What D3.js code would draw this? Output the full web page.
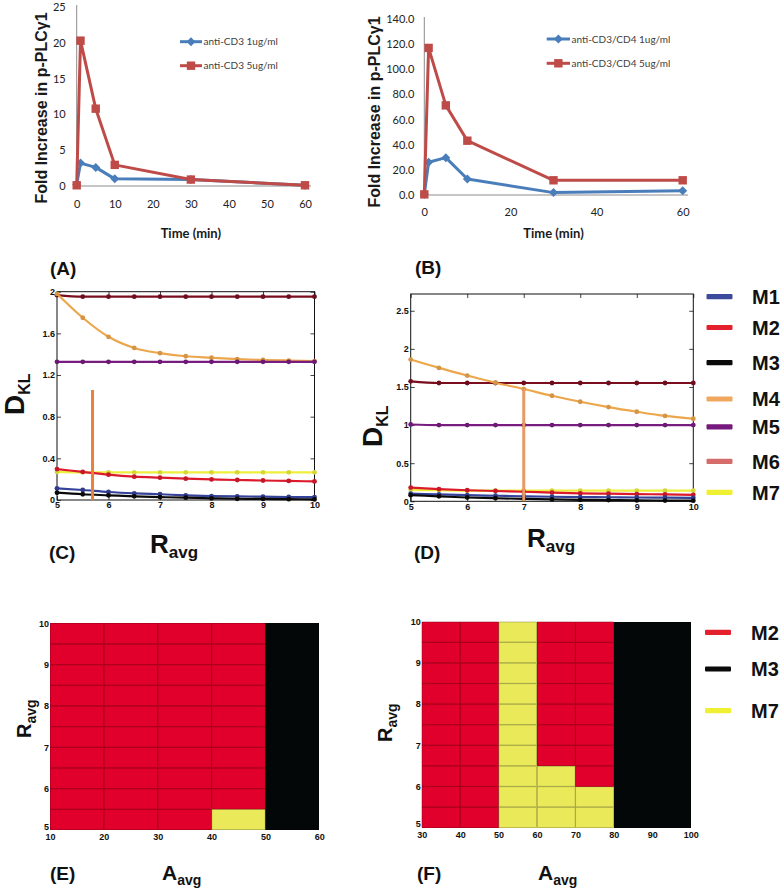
<!DOCTYPE html>
<html><head><meta charset="utf-8">
<script src="https://cdnjs.cloudflare.com/ajax/libs/d3/7.8.5/d3.min.js"></script>
<style>body{margin:0;background:#fff}svg{display:block}</style>
</head><body><svg id="fig" width="782" height="890"></svg>
<script>
// ---------------- DATA ----------------
// Panel A
const timeA = [0, 1, 5, 10, 30, 60];
const cd3_1ug = [0.2, 3.2, 2.6, 1.0, 0.9, 0.1];
const cd3_5ug = [0.1, 20.3, 10.8, 2.95, 0.9, 0.1];
const yTicksA = [0, 5, 10, 15, 20, 25];
const xTicksA = [0, 10, 20, 30, 40, 50, 60];
// Panel B
const timeB = [0, 1, 5, 10, 30, 60];
const cd34_1ug = [0.5, 26.0, 29.7, 12.7, 1.9, 3.4];
const cd34_5ug = [0.5, 117.0, 71.3, 43.2, 11.7, 11.7];
const yTicksB = [0, 20, 40, 60, 80, 100, 120, 140];
const xTicksB = [0, 20, 40, 60];
// Panels C and D (D_KL vs R_avg)
const rAvg = [5, 5.5, 6, 6.5, 7, 7.5, 8, 8.5, 9, 9.5, 10];
const modelNames = ["M1", "M2", "M3", "M4", "M5", "M6", "M7"];
const dklC_M1 = [0.112, 0.096, 0.077, 0.064, 0.055, 0.045, 0.038, 0.035, 0.032, 0.029, 0.028];
const dklC_M2 = [0.297, 0.27, 0.243, 0.224, 0.214, 0.205, 0.198, 0.192, 0.187, 0.183, 0.178];
const dklC_M3 = [0.07, 0.055, 0.045, 0.035, 0.028, 0.022, 0.016, 0.012, 0.01, 0.008, 0.006];
const dklC_M4 = [1.98, 1.75, 1.567, 1.46, 1.41, 1.38, 1.366, 1.353, 1.344, 1.339, 1.334];
const dklC_M5 = [1.327, 1.327, 1.327, 1.327, 1.327, 1.327, 1.327, 1.327, 1.327, 1.327, 1.327];
const dklC_M6 = [1.967, 1.952, 1.952, 1.952, 1.952, 1.952, 1.952, 1.952, 1.952, 1.952, 1.952];
const dklC_M7 = [0.27, 0.266, 0.266, 0.266, 0.266, 0.266, 0.266, 0.266, 0.266, 0.266, 0.266];
const dklD_M1 = [0.1, 0.09, 0.08, 0.073, 0.066, 0.06, 0.056, 0.053, 0.05, 0.048, 0.046];
const dklD_M2 = [0.18, 0.16, 0.145, 0.135, 0.125, 0.115, 0.105, 0.1, 0.095, 0.09, 0.085];
const dklD_M3 = [0.08, 0.065, 0.05, 0.04, 0.032, 0.025, 0.02, 0.016, 0.012, 0.01, 0.008];
const dklD_M4 = [1.86, 1.75, 1.65, 1.556, 1.473, 1.385, 1.306, 1.236, 1.175, 1.12, 1.083];
const dklD_M5 = [1.008, 1.0, 1.0, 1.0, 1.0, 1.0, 1.0, 1.0, 1.0, 1.0, 1.0];
const dklD_M6 = [1.574, 1.552, 1.552, 1.552, 1.552, 1.552, 1.552, 1.552, 1.552, 1.552, 1.552];
const dklD_M7 = [0.15, 0.145, 0.14, 0.14, 0.14, 0.14, 0.14, 0.14, 0.14, 0.14, 0.14];
const xTicksCD = [5, 6, 7, 8, 9, 10];
const yTicksC = [0, 0.4, 0.8, 1.2, 1.6, 2];
const yTicksD = [0, 0.5, 1, 1.5, 2, 2.5];
const markerC = [5.69, 1.056];   // vertical marker: R_avg, top D_KL
const markerD = [7.0, 1.48];
// Panels E and F (best model per A_avg / R_avg cell)
const rowsR = [5, 5.5, 6, 6.5, 7, 7.5, 8, 8.5, 9, 9.5];
const colsE = [10, 20, 30, 40, 50];
const colsF = [30, 40, 50, 60, 70, 80, 90];
const modelE = [ // row per R_avg (bottom -> top), column per A_avg
  ["M2","M2","M2","M7","M3"],
  ["M2","M2","M2","M2","M3"],
  ["M2","M2","M2","M2","M3"],
  ["M2","M2","M2","M2","M3"],
  ["M2","M2","M2","M2","M3"],
  ["M2","M2","M2","M2","M3"],
  ["M2","M2","M2","M2","M3"],
  ["M2","M2","M2","M2","M3"],
  ["M2","M2","M2","M2","M3"],
  ["M2","M2","M2","M2","M3"]
];
const modelF = [
  ["M2","M2","M7","M7","M7","M3","M3"],
  ["M2","M2","M7","M7","M7","M3","M3"],
  ["M2","M2","M7","M7","M2","M3","M3"],
  ["M2","M2","M7","M2","M2","M3","M3"],
  ["M2","M2","M7","M2","M2","M3","M3"],
  ["M2","M2","M7","M2","M2","M3","M3"],
  ["M2","M2","M7","M2","M2","M3","M3"],
  ["M2","M2","M7","M2","M2","M3","M3"],
  ["M2","M2","M7","M2","M2","M3","M3"],
  ["M2","M2","M7","M2","M2","M3","M3"]
];
const ticksAE = [10, 20, 30, 40, 50, 60];
const ticksAF = [30, 40, 50, 60, 70, 80, 90, 100];
const ticksR = [5, 6, 7, 8, 9, 10];

// ---------------- STYLE ----------------
const lineColors = {M1:"#35429a", M2:"#dc1a2c", M3:"#0a0a0a", M4:"#eca64c", M5:"#781c80", M6:"#7a0e1e", M7:"#eeee3c"};
const legendColors = {M1:"#3c4a9c", M2:"#e3202c", M3:"#0a0a0a", M4:"#f0a860", M5:"#76197c", M6:"#d46c6c", M7:"#f0f032"};
const heatColors = {M2:"#e1002b", M3:"#040707", M7:"#e9e95a"};
const heatStroke = {M2:"#8e0018", M3:"#040707", M7:"#8a8a40"};
const BLUE = "#4a7ebb", RED = "#be4b48";
const SANS = "'Liberation Sans', Arial, sans-serif";
const LATO = "Lato, 'Open Sans', sans-serif";

const svg = d3.select('#fig');
svg.append('rect').attr('width', 782).attr('height', 890).attr('fill', '#fff');

// ---------------- PANELS A & B ----------------
function excelPanel(cfg) {
  const g = svg.append('g');
  const x = d3.scaleLinear().domain(cfg.xDomain).range(cfg.xRange);
  const y = d3.scaleLinear().domain(cfg.yDomain).range(cfg.yRange);
  g.append('line').attr('x1', x(0)).attr('x2', cfg.xLineEnd).attr('y1', y(0)).attr('y2', y(0))
    .attr('stroke', '#8c8c8c').attr('stroke-width', 1);
  g.append('line').attr('x1', x(0)).attr('x2', x(0)).attr('y1', y(0)).attr('y2', cfg.yLineTop)
    .attr('stroke', '#8c8c8c').attr('stroke-width', 1);
  const ya = g.append('g').attr('transform', `translate(${x(0)},0)`)
    .call(d3.axisLeft(y).tickValues(cfg.yTicks).tickSize(0).tickPadding(cfg.yPad).tickFormat(cfg.yFmt));
  ya.select('.domain').remove();
  ya.selectAll('text').attr('font-family', LATO).attr('font-size', 11).attr('fill', '#222');
  const xa = g.append('g').attr('transform', `translate(0,${cfg.xLabelY})`)
    .call(d3.axisBottom(x).tickValues(cfg.xTicks).tickSize(0).tickPadding(0));
  xa.select('.domain').remove();
  xa.selectAll('text').attr('font-family', LATO).attr('font-size', 11).attr('fill', '#222')
    .attr('dy', '0.35em');
  const line = d3.line().x(d => x(d[0])).y(d => y(d[1]));
  cfg.series.forEach(s => {
    const pts = cfg.xs.map((t, i) => [t, s.vals[i]]);
    g.append('path').attr('d', line(pts)).attr('fill', 'none').attr('stroke', s.color)
      .attr('stroke-width', 3).attr('stroke-linejoin', 'round');
    g.selectAll(null).data(pts).enter().append('path')
      .attr('transform', d => `translate(${x(d[0])},${y(d[1])})`)
      .attr('d', s.shape).attr('fill', s.color);
  });
  cfg.series.forEach((s, i) => {
    const ly = cfg.legendY[i];
    g.append('line').attr('x1', cfg.legendX[0]).attr('x2', cfg.legendX[1]).attr('y1', ly).attr('y2', ly)
      .attr('stroke', s.color).attr('stroke-width', 3);
    g.append('path').attr('transform', `translate(${(cfg.legendX[0] + cfg.legendX[1]) / 2},${ly})`)
      .attr('d', s.shape).attr('fill', s.color);
    g.append('text').attr('x', cfg.legendX[1] + 1.5).attr('y', ly).attr('dy', '0.35em')
      .attr('font-family', LATO).attr('font-size', 10).attr('fill', '#404040').text(s.name);
  });
  g.append('text').attr('transform', `translate(${cfg.yTitle[0]},${cfg.yTitle[1]}) rotate(-90)`)
    .attr('text-anchor', 'middle').attr('font-family', SANS).attr('font-weight', 'bold')
    .attr('font-size', 16).attr('fill', '#1a1a1a').text('Fold Increase in p-PLCγ1');
  g.append('text').attr('x', (cfg.xRange[0] + cfg.xRange[1]) / 2).attr('y', cfg.xTitleY).attr('dy', '0.35em')
    .attr('text-anchor', 'middle').attr('font-family', LATO).attr('font-weight', 'bold')
    .attr('font-size', 13).attr('fill', '#1a1a1a').text('Time (min)');
}
const diamond = 'M0,-4.5L4.5,0L0,4.5L-4.5,0Z';
const square = 'M-4.2,-4.2H4.2V4.2H-4.2Z';

excelPanel({
  xDomain: [0, 60], xRange: [76.7, 305], yDomain: [0, 25], yRange: [186, 7],
  xLineEnd: 311, yLineTop: 5, yTicks: yTicksA, xTicks: xTicksA, yPad: 11, yFmt: d3.format('d'),
  xLabelY: 204, xs: timeA,
  series: [
    {name: 'anti-CD3 1ug/ml', vals: cd3_1ug, color: BLUE, shape: diamond},
    {name: 'anti-CD3 5ug/ml', vals: cd3_5ug, color: RED, shape: square}
  ],
  legendX: [180, 202], legendY: [41.7, 65.7],
  yTitle: [47, 108], xTitleY: 233
});
excelPanel({
  xDomain: [0, 60], xRange: [424.3, 682.7], yDomain: [0, 140], yRange: [195, 19],
  xLineEnd: 688, yLineTop: 17, yTicks: yTicksB, xTicks: xTicksB, yPad: 10, yFmt: d3.format('.1f'),
  xLabelY: 212, xs: timeB,
  series: [
    {name: 'anti-CD3/CD4 1ug/ml', vals: cd34_1ug, color: BLUE, shape: diamond},
    {name: 'anti-CD3/CD4 5ug/ml', vals: cd34_5ug, color: RED, shape: square}
  ],
  legendX: [546.7, 570], legendY: [39, 63.3],
  yTitle: [380, 112], xTitleY: 233
});

// ---------------- PANELS C & D ----------------
function dklPanel(cfg) {
  const g = svg.append('g');
  const x = d3.scaleLinear().domain([5, 10]).range(cfg.xRange);
  const y = d3.scaleLinear().domain(cfg.yDomain).range(cfg.yRange);
  const [x0, x1] = cfg.xRange, [y0, y1] = cfg.yRange;
  const fmt = d => String(d);
  const styleAx = sel => {
    sel.select('.domain').remove();
    sel.selectAll('line').attr('stroke', '#111').attr('stroke-width', 0.8);
    sel.selectAll('text').attr('font-family', SANS).attr('font-size', 9).attr('fill', '#111').attr('font-weight', 'bold');
  };
  g.append('g').attr('transform', `translate(${x0},0)`)
    .call(d3.axisLeft(y).tickValues(cfg.yTicks).tickSize(-4).tickPadding(2).tickFormat(fmt)).call(styleAx);
  g.append('g').attr('transform', `translate(${x1},0)`)
    .call(d3.axisRight(y).tickValues(cfg.yTicks).tickSize(-4).tickFormat('')).call(styleAx);
  g.append('g').attr('transform', `translate(0,${y0})`)
    .call(d3.axisBottom(x).tickValues(xTicksCD).tickSize(-4).tickPadding(2).tickFormat(fmt)).call(styleAx);
  g.append('g').attr('transform', `translate(0,${y1})`)
    .call(d3.axisTop(x).tickValues(xTicksCD).tickSize(-4).tickFormat('')).call(styleAx);
  g.append('rect').attr('x', x0).attr('y', y1).attr('width', x1 - x0).attr('height', y0 - y1)
    .attr('fill', 'none').attr('stroke', '#111').attr('stroke-width', 1);
  const line = d3.line().x((d, i) => x(rAvg[i])).y(d => y(d)).curve(d3.curveMonotoneX);
  cfg.order.forEach(k => {
    const vals = cfg.data[k];
    g.append('path').attr('d', line(vals)).attr('fill', 'none').attr('stroke', lineColors[k])
      .attr('stroke-width', 2.2);
    g.selectAll(null).data(vals).enter().append('circle')
      .attr('cx', (d, i) => x(rAvg[i])).attr('cy', d => y(d)).attr('r', 2.4)
      .attr('fill', d3.color(lineColors[k]).darker(0.3));
  });
  g.append('line').attr('x1', x(cfg.marker[0])).attr('x2', x(cfg.marker[0]))
    .attr('y1', y(cfg.marker[1])).attr('y2', y(0)).attr('stroke', cfg.markerColor).attr('stroke-width', 3);
  const t = g.append('text').attr('transform', `translate(${cfg.dkl[0]},${cfg.dkl[1]}) rotate(-90)`)
    .attr('font-family', SANS).attr('font-weight', 'bold').attr('fill', '#111');
  t.append('tspan').attr('font-size', 28).text('D');
  t.append('tspan').attr('font-size', 16).attr('dy', 6).text('KL');
  const r = g.append('text').attr('x', cfg.ravg[0]).attr('y', cfg.ravg[1])
    .attr('font-family', SANS).attr('font-weight', 'bold').attr('fill', '#111');
  r.append('tspan').attr('font-size', 26).text('R');
  r.append('tspan').attr('font-size', 17).attr('dy', 5).text('avg');
}
dklPanel({
  xRange: [57, 314.5], yDomain: [0, 2], yRange: [500, 291.7], yTicks: yTicksC,
  data: {M1: dklC_M1, M2: dklC_M2, M3: dklC_M3, M4: dklC_M4, M5: dklC_M5, M6: dklC_M6, M7: dklC_M7},
  order: ['M6', 'M4', 'M5', 'M7', 'M2', 'M1', 'M3'],
  marker: markerC, markerColor: '#e8823a', dkl: [23.5, 415], ravg: [150, 553]
});
dklPanel({
  xRange: [410.7, 693.3], yDomain: [0, 2.72], yRange: [501.3, 294], yTicks: yTicksD,
  data: {M1: dklD_M1, M2: dklD_M2, M3: dklD_M3, M4: dklD_M4, M5: dklD_M5, M6: dklD_M6, M7: dklD_M7},
  order: ['M6', 'M4', 'M5', 'M7', 'M2', 'M1', 'M3'],
  marker: markerD, markerColor: '#e89a64', dkl: [382, 447], ravg: [527, 547]
});

const legendCDY = [296.7, 327.5, 362.7, 399, 426.8, 461.3, 492.3];
modelNames.forEach((m, i) => {
  svg.append('rect').attr('x', 706.5).attr('y', legendCDY[i] - 2.6).attr('width', 26).attr('height', 5.2)
    .attr('rx', 1).attr('fill', legendColors[m]);
  svg.append('text').attr('x', 752).attr('y', legendCDY[i]).attr('dy', '0.36em')
    .attr('font-family', SANS).attr('font-weight', 'bold').attr('font-size', 20).attr('fill', '#111').text(m);
});

// ---------------- PANELS E & F ----------------
function heatPanel(cfg) {
  const g = svg.append('g');
  const x = d3.scaleLinear().domain(cfg.xDomain).range(cfg.xRange);
  const y = d3.scaleLinear().domain([5, 10]).range(cfg.yRange);
  const cells = [];
  cfg.model.forEach((row, ri) => row.forEach((m, ci) => cells.push({r: rowsR[ri], a: cfg.cols[ci], m})));
  const right = cfg.xRange[1], top = cfg.yRange[1];
  // fills first (slightly overlapping, crisp, to avoid anti-aliasing seams)
  g.selectAll(null).data(cells).enter().append('rect')
    .attr('x', d => x(d.a)).attr('y', d => Math.max(top, y(d.r + 0.5) - 0.8))
    .attr('width', d => Math.min(right, x(d.a + 10) + 0.8) - x(d.a))
    .attr('height', d => y(d.r) - Math.max(top, y(d.r + 0.5) - 0.8))
    .attr('fill', d => heatColors[d.m]).attr('shape-rendering', 'crispEdges');
  // thin cell outlines (inset) in a darker shade of the cell colour
  g.selectAll(null).data(cells.filter(d => d.m !== 'M3')).enter().append('rect')
    .attr('x', d => x(d.a) + 0.3).attr('y', d => y(d.r + 0.5) + 0.3)
    .attr('width', d => x(d.a + 10) - x(d.a) - 0.6).attr('height', d => y(d.r) - y(d.r + 0.5) - 0.6)
    .attr('fill', 'none').attr('stroke', d => heatStroke[d.m]).attr('stroke-width', 0.6).attr('stroke-opacity', 0.8);
  const ya = g.append('g').attr('transform', `translate(${cfg.xRange[0]},0)`)
    .call(d3.axisLeft(y).tickValues(ticksR).tickSize(0).tickPadding(1).tickFormat(d3.format('d')));
  ya.select('.domain').remove();
  ya.selectAll('text').attr('font-family', SANS).attr('font-size', 9).attr('font-weight', 'bold').attr('fill', '#111')
    .attr('dy', d => d === 5 ? '-0.1em' : '0.32em');
  const xa = g.append('g').attr('transform', `translate(0,${cfg.yRange[0]})`)
    .call(d3.axisBottom(x).tickValues(cfg.ticks).tickSize(0).tickPadding(4).tickFormat(d3.format('d')));
  xa.select('.domain').remove();
  xa.selectAll('text').attr('font-family', SANS).attr('font-size', 9).attr('font-weight', 'bold').attr('fill', '#111');
  const t = g.append('text').attr('transform', `translate(${cfg.rt[0]},${cfg.rt[1]}) rotate(-90)`)
    .attr('font-family', SANS).attr('font-weight', 'bold').attr('fill', '#111');
  t.append('tspan').attr('font-size', 20).text('R');
  t.append('tspan').attr('font-size', 14).attr('dy', 5).text('avg');
  const a = g.append('text').attr('x', cfg.at[0]).attr('y', cfg.at[1])
    .attr('font-family', SANS).attr('font-weight', 'bold').attr('fill', '#111');
  a.append('tspan').attr('font-size', 21).text('A');
  a.append('tspan').attr('font-size', 14).attr('dy', 5).text('avg');
}
heatPanel({xDomain: [10, 60], xRange: [50, 319.3], yRange: [830, 623.3], model: modelE, cols: colsE,
  ticks: ticksAE, rt: [31, 738], at: [162, 880]});
heatPanel({xDomain: [30, 100], xRange: [421.7, 690.7], yRange: [827.7, 621.7], model: modelF, cols: colsF,
  ticks: ticksAF, rt: [392, 742], at: [538, 880]});

const legendFModels = ["M2", "M3", "M7"];
const legendFY = [632.3, 669, 710.7];
legendFModels.forEach((m, i) => {
  svg.append('rect').attr('x', 705).attr('y', legendFY[i] - 2.6).attr('width', 26).attr('height', 5.2)
    .attr('rx', 1).attr('fill', legendColors[m]);
  svg.append('text').attr('x', 751).attr('y', legendFY[i]).attr('dy', '0.36em')
    .attr('font-family', SANS).attr('font-weight', 'bold').attr('font-size', 20).attr('fill', '#111').text(m);
});

// ---------------- PANEL LABELS ----------------
const panelLabels = ["(A)", "(B)", "(C)", "(D)", "(E)", "(F)"];
const panelLabelPos = [[50, 275], [415, 274], [49, 559], [414, 559], [50, 880], [417, 880]];
panelLabels.forEach((s, i) => {
  svg.append('text').attr('x', panelLabelPos[i][0]).attr('y', panelLabelPos[i][1])
    .attr('font-family', SANS).attr('font-weight', 'bold').attr('font-size', 19).attr('fill', '#111').text(s);
});
</script></body></html>
